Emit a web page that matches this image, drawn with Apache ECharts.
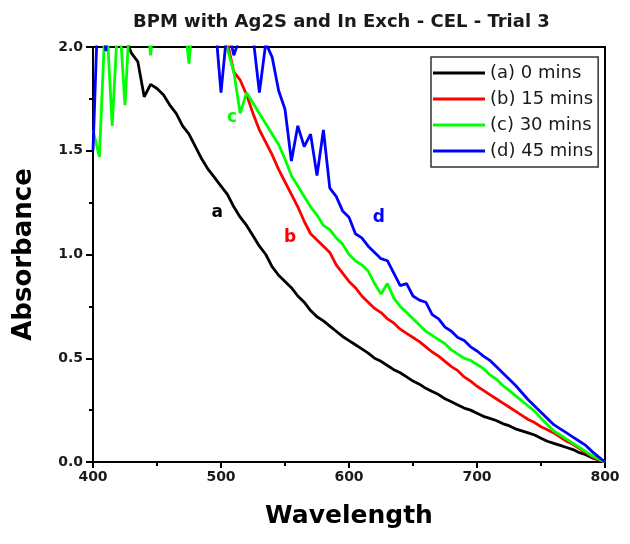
<!DOCTYPE html>
<html><head><meta charset="utf-8">
<script src="https://cdn.jsdelivr.net/npm/echarts@6/dist/echarts.min.js"></script>
<style>html,body{margin:0;padding:0;background:#fff}#c{width:630px;height:544px}</style>
</head><body><div id="c"></div>
<script>
var wavelengths = [400,405,410,415,420,425,430,435,440,445,450,455,460,465,470,475,480,485,490,495,500,505,510,515,520,525,530,535,540,545,550,555,560,565,570,575,580,585,590,595,600,605,610,615,620,625,630,635,640,645,650,655,660,665,670,675,680,685,690,695,700,705,710,715,720,725,730,735,740,745,750,755,760,765,770,775,780,785,790,795,800];
var seriesNames = ['(a) 0 mins','(b) 15 mins','(c) 30 mins','(d) 45 mins'];
var seriesColors = ['#000000','#ff0000','#00ff00','#0000ff'];
var absA = [2.40,2.36,2.32,2.26,2.16,2.05,1.97,1.93,1.76,1.82,1.80,1.77,1.72,1.68,1.62,1.58,1.52,1.46,1.41,1.37,1.33,1.29,1.23,1.18,1.14,1.09,1.04,1.00,0.94,0.90,0.87,0.84,0.80,0.77,0.73,0.70,0.68,0.655,0.63,0.605,0.585,0.565,0.545,0.525,0.50,0.485,0.465,0.445,0.43,0.41,0.39,0.375,0.355,0.34,0.325,0.305,0.29,0.275,0.26,0.25,0.235,0.22,0.21,0.20,0.185,0.175,0.16,0.15,0.14,0.13,0.115,0.10,0.09,0.08,0.07,0.06,0.045,0.035,0.02,0.01,0.0];
var absB = [2.50,2.48,2.46,2.45,2.43,2.42,2.40,2.38,2.36,2.35,2.33,2.31,2.30,2.28,2.26,2.24,2.22,2.20,2.16,2.12,2.08,2.02,1.88,1.84,1.77,1.68,1.60,1.54,1.48,1.41,1.35,1.29,1.23,1.16,1.10,1.07,1.04,1.01,0.95,0.91,0.87,0.84,0.80,0.77,0.74,0.72,0.69,0.67,0.64,0.62,0.60,0.58,0.555,0.53,0.51,0.485,0.46,0.44,0.41,0.39,0.365,0.345,0.325,0.305,0.285,0.265,0.245,0.225,0.205,0.19,0.17,0.155,0.14,0.12,0.10,0.085,0.065,0.045,0.025,0.01,0.0];
var absC = [1.60,1.47,2.20,1.62,2.20,1.72,2.30,2.30,2.25,1.96,2.30,2.30,2.30,2.25,2.20,1.92,2.30,2.20,2.15,2.12,2.08,1.99,1.88,1.68,1.78,1.73,1.68,1.63,1.58,1.53,1.46,1.38,1.33,1.28,1.23,1.19,1.14,1.12,1.08,1.05,1.00,0.97,0.95,0.92,0.86,0.81,0.86,0.79,0.75,0.72,0.69,0.66,0.63,0.61,0.59,0.57,0.54,0.52,0.50,0.49,0.47,0.45,0.42,0.40,0.37,0.345,0.32,0.295,0.27,0.245,0.21,0.18,0.15,0.13,0.11,0.09,0.07,0.05,0.03,0.015,0.0];
var absD = [1.50,2.40,1.98,2.40,2.40,2.40,2.40,2.40,2.40,2.40,2.40,2.40,2.35,2.35,2.30,2.30,2.25,2.25,2.20,2.15,1.78,2.10,1.96,2.05,2.10,2.05,1.78,2.02,1.95,1.79,1.70,1.45,1.62,1.52,1.58,1.38,1.60,1.32,1.28,1.21,1.18,1.10,1.08,1.04,1.01,0.98,0.97,0.91,0.85,0.86,0.80,0.78,0.77,0.71,0.69,0.65,0.63,0.60,0.585,0.555,0.535,0.51,0.49,0.46,0.43,0.40,0.37,0.335,0.30,0.27,0.24,0.21,0.18,0.16,0.14,0.12,0.10,0.08,0.05,0.025,0.0];
var curveLetters = ['a','b','c','d'];
var letterPos = [[497,1.20],[554,1.08],[508.6,1.66],[623.4,1.18]];
var xTicks = [400,500,600,700,800];
var yTicks = [0.0,0.5,1.0,1.5,2.0];

var allAbs = [absA, absB, absC, absD];
var FONT = 'DejaVu Sans';
var series = seriesNames.map(function(name, i){
  return {
    name: name, type: 'line', showSymbol: false, symbol: 'none', clip: true,
    data: wavelengths.map(function(w, k){ return [w, allAbs[i][k]]; }),
    lineStyle: {color: seriesColors[i], width: 2.8},
    itemStyle: {color: seriesColors[i]},
    animation: false,
    markPoint: {
      symbol: 'rect', symbolSize: 1, silent: true, animation: false,
      itemStyle: {color: 'rgba(0,0,0,0)'},
      label: {show: true, position: 'inside', formatter: curveLetters[i], color: seriesColors[i], fontFamily: FONT, fontWeight: 'bold', fontSize: 17},
      data: [{coord: letterPos[i]}]
    }
  };
});

var chart = echarts.init(document.getElementById('c'), null, {renderer: 'canvas'});
chart.setOption({
  backgroundColor: '#fff',
  animation: false,
  title: {text: 'BPM with Ag2S and In Exch - CEL - Trial 3', left: 128, top: 8,
    textStyle: {fontFamily: FONT, fontWeight: 'bold', fontSize: 18, color: '#1a1a1a'}},
  legend: {
    data: seriesNames, orient: 'vertical', left: 431, top: 57,
    icon: 'rect', itemWidth: 52, itemHeight: 3, itemGap: 8,
    padding: [7, 5, 7, 2], borderColor: '#333', borderWidth: 1.5,
    textStyle: {fontFamily: FONT, fontSize: 18, lineHeight: 18, color: '#1a1a1a'}
  },
  grid: {left: 93, right: 25, top: 47, bottom: 82, show: true, borderColor: '#000', borderWidth: 2, containLabel: false},
  xAxis: {
    type: 'value', min: xTicks[0], max: xTicks[xTicks.length-1], interval: 100,
    name: 'Wavelength', nameLocation: 'middle', nameGap: 42,
    nameTextStyle: {fontFamily: FONT, fontWeight: 'bold', fontSize: 25, color: '#000'},
    axisLine: {lineStyle: {color: '#000', width: 2}},
    axisTick: {show: true, inside: false, length: 6, lineStyle: {width: 2, color: '#000'}},
    minorTick: {show: true, splitNumber: 2, length: 4, lineStyle: {width: 2, color: '#000'}},
    splitLine: {show: false},
    axisLabel: {fontFamily: FONT, fontWeight: 'bold', fontSize: 14, color: '#1a1a1a', margin: 8}
  },
  yAxis: {
    type: 'value', min: yTicks[0], max: yTicks[yTicks.length-1], interval: 0.5,
    name: 'Absorbance', nameLocation: 'middle', nameGap: 56, nameRotate: 90,
    nameTextStyle: {fontFamily: FONT, fontWeight: 'bold', fontSize: 26, color: '#000'},
    axisLine: {lineStyle: {color: '#000', width: 2}},
    axisTick: {show: true, inside: false, length: 7, lineStyle: {width: 2, color: '#000'}},
    minorTick: {show: true, splitNumber: 2, length: 4, lineStyle: {width: 2, color: '#000'}},
    splitLine: {show: false},
    axisLabel: {fontFamily: FONT, fontWeight: 'bold', fontSize: 14, color: '#1a1a1a', margin: 10,
      formatter: function(v){ return v.toFixed(1); }}
  },
  series: series
});
</script></body></html>
